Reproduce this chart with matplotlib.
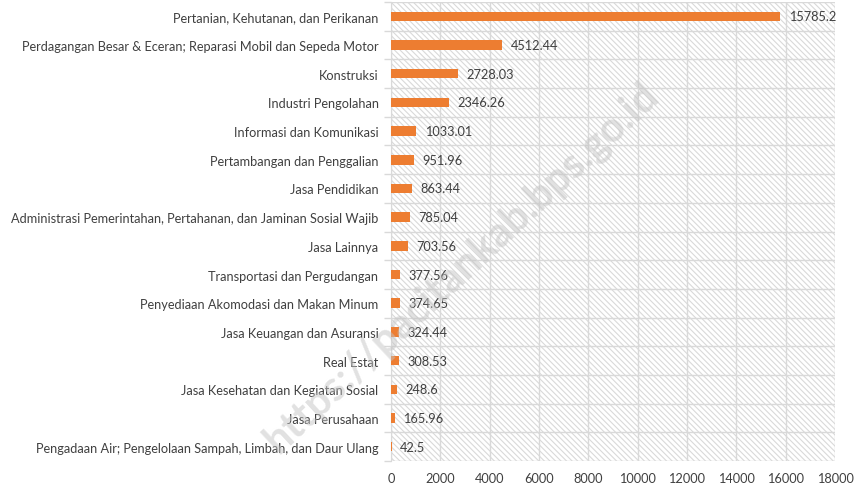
import matplotlib
matplotlib.use("Agg")
import matplotlib.pyplot as plt
from matplotlib.patches import Rectangle
import numpy as np

plt.rcParams['font.family'] = ['Lato', 'DejaVu Sans']
plt.rcParams['hatch.color'] = '#d9d9d9'
plt.rcParams['hatch.linewidth'] = 0.8

sectors = [
    "Pertanian, Kehutanan, dan Perikanan",
    "Perdagangan Besar & Eceran; Reparasi Mobil dan Sepeda Motor",
    "Konstruksi",
    "Industri Pengolahan",
    "Informasi dan Komunikasi",
    "Pertambangan dan Penggalian",
    "Jasa Pendidikan",
    "Administrasi Pemerintahan, Pertahanan, dan Jaminan Sosial Wajib",
    "Jasa Lainnya",
    "Transportasi dan Pergudangan",
    "Penyediaan Akomodasi dan Makan Minum",
    "Jasa Keuangan dan Asuransi",
    "Real Estat",
    "Jasa Kesehatan dan Kegiatan Sosial",
    "Jasa Perusahaan",
    "Pengadaan Air; Pengelolaan Sampah, Limbah, dan Daur Ulang",
]
values = [15785.2, 4512.44, 2728.03, 2346.26, 1033.01, 951.96, 863.44, 785.04,
          703.56, 377.56, 374.65, 324.44, 308.53, 248.6, 165.96, 42.5]
value_labels = ["15785.2", "4512.44", "2728.03", "2346.26", "1033.01", "951.96",
                "863.44", "785.04", "703.56", "377.56", "374.65", "324.44",
                "308.53", "248.6", "165.96", "42.5"]
x_ticks = list(range(0, 18001, 2000))

text_color = '#404040'
grid_color = '#d9d9d9'
bar_color = '#ED7D31'
fs = 9.2

fig = plt.figure(figsize=(8.58, 4.89), dpi=100)
ax = fig.add_axes([391 / 858, 1 - 462 / 489, 444 / 858, 459 / 489])

n = len(sectors)
y = np.arange(n)

# hatched plot background
ax.add_patch(Rectangle((0, 0), 1, 1, transform=ax.transAxes, facecolor='white',
                       edgecolor='#d9d9d9', hatch='\\\\\\\\\\\\', lw=0, zorder=0))

ax.barh(y, values, height=0.33, color=bar_color, zorder=3)
for yi, v, lab in zip(y, values, value_labels):
    ax.annotate(lab, (v, yi), xytext=(6, 0), textcoords='offset points',
                va='center', ha='left', fontsize=fs, color=text_color, zorder=4)

ax.set_xlim(0, 18000)
ax.set_ylim(n - 0.5, -0.5)
ax.set_xticks(x_ticks)
ax.set_xticklabels([str(t) for t in x_ticks], fontsize=fs, color=text_color)
ax.set_yticks(y)
ax.set_yticklabels(sectors, fontsize=fs, color=text_color)
ax.set_yticks(np.arange(-0.5, n, 1.0), minor=True)
ax.tick_params(axis='y', which='major', length=0, pad=9)
ax.tick_params(axis='y', which='minor', length=5, color=grid_color, width=1)
ax.tick_params(axis='x', which='major', length=0, pad=8)

ax.grid(axis='x', which='major', color=grid_color, lw=1, zorder=1)
ax.grid(axis='y', which='minor', color=grid_color, lw=1, zorder=1)
ax.set_axisbelow(True)
for s in ['top', 'right', 'bottom']:
    ax.spines[s].set_visible(False)
ax.spines['left'].set_color(grid_color)

# site watermark
fig.text(462 / 858, 1 - 268 / 489, "https://pacitankab.bps.go.id", rotation=43,
         ha='center', va='center', fontsize=30, color='#c4c4c4', alpha=0.5,
         fontweight='bold', zorder=10)

fig.savefig("out.png", dpi=100)
